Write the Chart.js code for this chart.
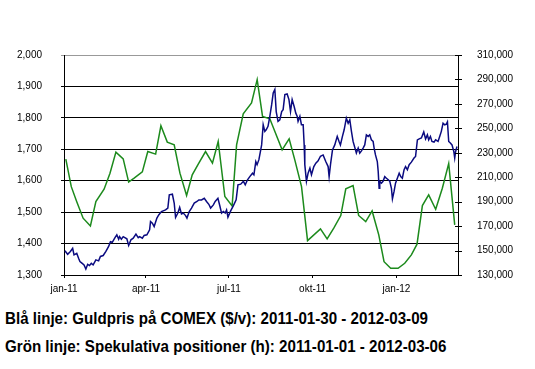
<!DOCTYPE html>
<html>
<head>
<meta charset="utf-8">
<script src="https://cdn.jsdelivr.net/npm/chart.js@4.4.1/dist/chart.umd.min.js"></script>
<style>
  body { margin: 0; background: #fff; }
  #wrap { position: relative; width: 535px; height: 369px; }
  #chart { position: absolute; left: 0; top: 0; }
  .cap {
    position: absolute; left: 5px; white-space: nowrap;
    font-family: "Liberation Sans", Arial, sans-serif;
    font-weight: bold; font-size: 17px; line-height: 17px; color: #000;
    transform: scaleX(0.89); transform-origin: left top;
  }
</style>
</head>
<body>
<div id="wrap">
  <canvas id="chart" width="535" height="300"></canvas>
  <div class="cap" id="cap1" style="top:310px">Blå linje: Guldpris på COMEX ($/v): 2011-01-30 - 2012-03-09</div>
  <div class="cap" id="cap2" style="top:338px">Grön linje: Spekulativa positioner (h): 2011-01-01 - 2012-03-06</div>
</div>
<script>
// x = days since 2011-01-01
const tickDays = [0, 90, 181, 273, 365];
const tickLabels = ['jan-11', 'apr-11', 'jul-11', 'okt-11', 'jan-12'];

// Blue: gold price COMEX ($/oz), left axis
const blueDays = [1, 4, 7, 9.5, 11, 14, 16, 17.5, 20, 22, 24, 26, 28, 30, 32, 35, 38, 40, 43, 46, 49, 51, 53, 56, 58, 60, 61, 63, 65, 69,
  71, 73.5, 76, 79, 81.5, 83, 86, 88, 91, 94, 95, 97, 99, 102, 104, 107, 111.5, 114, 115.6, 119, 121, 122.5, 125, 127, 129, 131, 133.5,
  135, 137.5, 140, 143, 146, 148, 151, 154, 156.5, 159, 161, 164, 166, 169, 171, 173, 175, 177, 178.5, 180, 183, 186, 189, 191, 194, 197,
  199, 201.5, 204, 207, 208.5, 210.6, 212, 214, 217, 218.7, 220.5, 222, 224, 226, 228, 229.7, 231.5, 233, 235, 237, 239, 240.6, 242.5,
  245, 247, 248.7, 250.5, 252.7, 254.5, 256, 257, 259, 260.7, 262.6, 263.7, 264.4, 266.2, 268, 270, 271.7, 274.3, 276.5, 279, 281.6,
  284.5, 287.4, 290, 291.1, 292.6, 294.8, 297.3, 300, 302, 303.5, 305.7, 307.6, 310, 312, 313.8, 315.6, 317.4, 321, 323, 324.7, 326.6,
  328.4, 330.2, 332, 334, 335.7, 337.5, 339.4, 340.5, 342, 344, 345, 346, 346.7, 348.5, 350.3, 352.2, 354, 356, 357.7, 359.5, 360.6,
  362.4, 364, 366, 368, 369.7, 371.5, 373.4, 375, 377, 379, 381.4, 384.3, 386, 388, 390, 392.4, 395, 397, 399, 400.4, 402.3, 404, 406.3,
  408, 410.7, 412.5, 414.3, 416.2, 418, 419.8, 421, 422.4, 424.2, 426, 428, 429, 430, 431.5];
const blueValues = [1377, 1366, 1375, 1385, 1364, 1369, 1353, 1343, 1337, 1332, 1319, 1334, 1330, 1337, 1332, 1348, 1345, 1359, 1362,
  1375, 1391, 1406, 1404, 1419, 1428, 1414, 1422, 1414, 1422, 1415, 1394, 1412, 1417, 1430, 1419, 1422, 1417, 1426, 1428, 1444, 1470,
  1465, 1454, 1481, 1491, 1502, 1507, 1513, 1555, 1557, 1529, 1483, 1497, 1515, 1494, 1497, 1489, 1481, 1502, 1513, 1529, 1534, 1539,
  1539, 1544, 1534, 1525, 1513, 1523, 1534, 1544, 1521, 1497, 1502, 1497, 1507, 1484, 1504, 1521, 1539, 1587, 1589, 1598, 1587, 1603,
  1613, 1624, 1619, 1661, 1651, 1667, 1714, 1778, 1757, 1762, 1773, 1805, 1842, 1879, 1890, 1820, 1789, 1794, 1820, 1826, 1874, 1876,
  1858, 1820, 1858, 1836, 1815, 1805, 1789, 1805, 1778, 1778, 1714, 1651, 1598, 1624, 1640, 1619, 1645, 1656, 1663, 1678, 1682, 1661,
  1645, 1613, 1651, 1698, 1714, 1741, 1725, 1714, 1741, 1762, 1799, 1783, 1794, 1757, 1725, 1688, 1704, 1688, 1695, 1704, 1714, 1746,
  1741, 1746, 1730, 1725, 1704, 1682, 1661, 1629, 1576, 1598, 1592, 1598, 1613, 1608, 1603, 1598, 1576, 1542, 1566, 1592, 1608, 1624,
  1613, 1608, 1635, 1645, 1635, 1651, 1659, 1672, 1677, 1730, 1733, 1736, 1755, 1733, 1746, 1730, 1741, 1725, 1723, 1730, 1725, 1741,
  1757, 1783, 1778, 1780, 1787, 1725, 1720, 1714, 1693, 1672, 1693, 1709];

// Green: speculative positions (contracts), right axis
const greenDays = [2, 8, 14, 21, 29, 35, 44, 50.5, 57, 65, 71, 77, 86, 92, 100.6, 106.4, 113.4, 121, 127.3, 134.6, 140.8, 147.4, 155.4,
  163, 169.3, 176.6, 184.6, 189.5, 196.8, 205.9, 212.1, 218, 226, 239.5, 247.2, 253.4, 260.8, 267.4, 281.6, 288.9, 296.2, 303.9, 309.4,
  317.4, 323.5, 331.3, 338.3, 345.6, 351.4, 358.7, 366.8, 374.1, 381.4, 387.6, 393.5, 400.4, 408.1, 415.4, 422.4, 429];
const greenValues = [224800, 202300, 190000, 176500, 170100, 190000, 200200, 213300, 230500, 225000, 206000, 209200, 214400, 231000,
  228900, 252100, 238700, 236500, 213300, 195000, 211900, 220700, 231000, 221500, 239200, 194200, 186500, 236500, 261900, 270700, 289800,
  259700, 257800, 232400, 241400, 224200, 202300, 158100, 167700, 159500, 168300, 178600, 200500, 203200, 178700, 173700, 182400, 162800,
  140900, 135500, 135500, 139600, 146400, 155200, 186800, 195500, 183800, 201000, 221200, 171000];

const tickFont = { family: '"Liberation Sans", Arial, sans-serif', size: 10 };
const fmt = v => Number(v).toLocaleString('en-US');

// right axis tick marks cross the axis line
const rightTicks = {
  id: 'rightTicks',
  afterDraw(chart) {
    const s = chart.scales.y1;
    const ctx = chart.ctx;
    ctx.save();
    ctx.strokeStyle = '#000';
    ctx.lineWidth = 1;
    s.ticks.forEach(t => {
      const y = Math.round(s.getPixelForValue(t.value)) + 0.5;
      ctx.beginPath();
      ctx.moveTo(s.left - 3, y);
      ctx.lineTo(s.left + 4, y);
      ctx.stroke();
    });
    ctx.restore();
  }
};

new Chart(document.getElementById('chart'), {
  type: 'line',
  data: {
    datasets: [
      {
        label: 'Guldpris',
        data: blueDays.map((d, i) => ({ x: d, y: blueValues[i] })),
        yAxisID: 'y',
        borderColor: '#0a0a80',
        borderWidth: 1.5,
        pointRadius: 0,
        tension: 0
      },
      {
        label: 'Spekulativa positioner',
        data: greenDays.map((d, i) => ({ x: d, y: greenValues[i] })),
        yAxisID: 'y1',
        borderColor: '#1c8a1c',
        borderWidth: 1.5,
        pointRadius: 0,
        tension: 0
      }
    ]
  },
  options: {
    responsive: false,
    animation: false,
    layout: { padding: { top: 55, left: 0, right: 0, bottom: 0 } },
    plugins: { legend: { display: false }, tooltip: { enabled: false } },
    scales: {
      x: {
        type: 'linear',
        min: 0,
        max: 432.6,
        afterBuildTicks: s => { s.ticks = tickDays.map(v => ({ value: v })); },
        afterFit: s => { s.height = 25; },
        ticks: {
          autoSkip: false, maxRotation: 0, padding: 5, color: '#000', font: tickFont,
          callback: (v, i) => tickLabels[i]
        },
        grid: { drawOnChartArea: false, drawTicks: true, tickLength: 3, color: '#000' },
        border: { color: '#000', width: 1 }
      },
      y: {
        position: 'left',
        min: 1300,
        max: 2000,
        afterFit: s => { s.width = 64; },
        ticks: { stepSize: 100, padding: 19, color: '#000', font: tickFont, callback: v => fmt(v) },
        grid: {
          tickLength: 3,
          color: c => (c.tick && c.tick.value === 2000 ? '#999' : '#000'),
          lineWidth: 1
        },
        border: { color: '#000', width: 1 }
      },
      y1: {
        position: 'right',
        min: 130000,
        max: 310000,
        afterFit: s => { s.width = 77; },
        ticks: { stepSize: 20000, padding: 11, color: '#000', font: tickFont, callback: v => fmt(v) },
        grid: { display: false },
        border: { color: '#000', width: 1 }
      }
    }
  },
  plugins: [rightTicks]
});
</script>
</body>
</html>
